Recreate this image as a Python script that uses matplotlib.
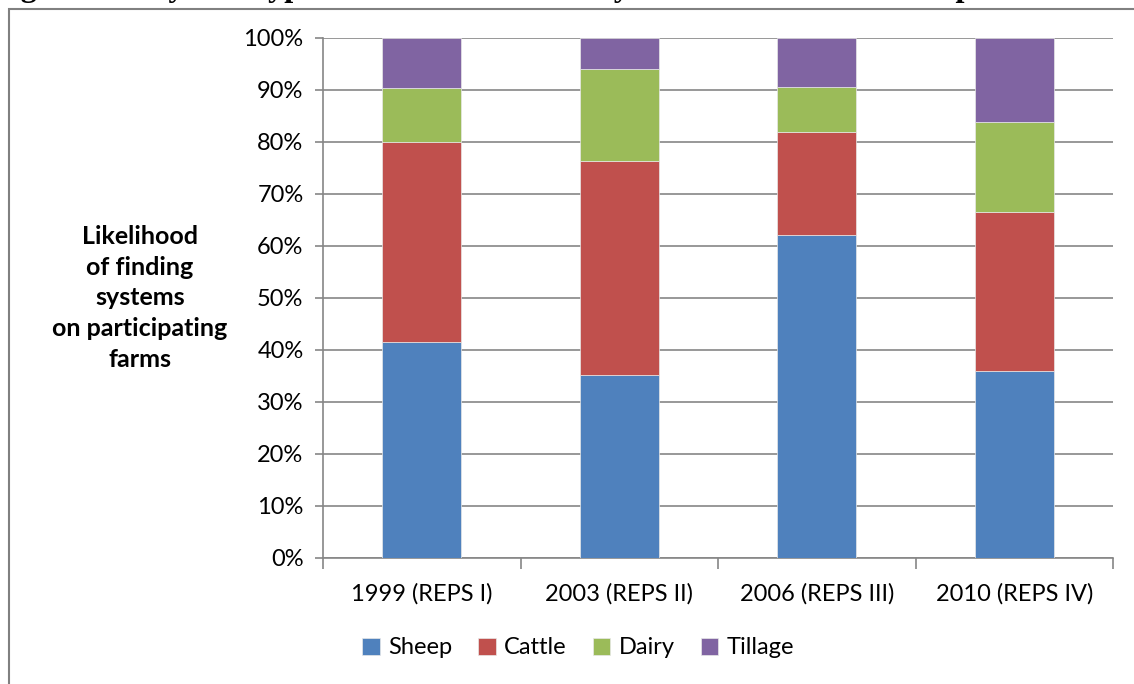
import matplotlib.pyplot as plt
import numpy as np
from matplotlib.patches import Rectangle

# data (percent of farms)
phases = ['1999 (REPS I)', '2003 (REPS II)', '2006 (REPS III)', '2010 (REPS IV)']
sheep = [41.5, 35.2, 62.1, 36.0]
cattle = [38.5, 41.1, 19.9, 30.5]
dairy = [10.4, 17.7, 8.5, 17.3]
tillage = [9.6, 6.0, 9.5, 16.2]

series = [('Sheep', sheep, '#4F81BD'), ('Cattle', cattle, '#C0504D'),
          ('Dairy', dairy, '#9BBB59'), ('Tillage', tillage, '#8064A2')]

plt.rcParams['font.family'] = ['Lato', 'DejaVu Sans']

fig = plt.figure(figsize=(11.34, 6.84), dpi=100)
ax = fig.add_axes([323 / 1134, 1 - 558 / 684, (1113 - 323) / 1134, (558 - 38) / 684])

# outer frame of the figure box
fig.patches.append(Rectangle((9 / 1134, -0.1), 1.2, 1 - 9 / 684 + 0.1,
                             transform=fig.transFigure, fill=False,
                             edgecolor='#808080', linewidth=1.5))

# clipped caption at the very top
fig.text(-8 / 1134, 1 + 4 / 684,
         'Figure 4.1: System types which are most likely to be found in the four phases of REPS',
         family='Liberation Serif', weight='bold', fontsize=23.2, ha='left', va='baseline')

x = np.arange(len(phases))
bottom = np.zeros(len(phases))
for name, vals, col in series:
    ax.bar(x, vals, width=0.4, bottom=bottom, color=col, label=name,
           edgecolor='#e8e8e8', linewidth=0.5, zorder=3)
    bottom += np.array(vals)

ax.set_xlim(-0.5, 3.5)
ax.set_ylim(0, 100)
ax.set_yticks(np.arange(0, 101, 10))
ax.set_yticklabels([f'{v}%' for v in range(0, 101, 10)], fontsize=17)
ax.set_xticks(x)
ax.set_xticklabels(phases, fontsize=17)
ax.tick_params(axis='x', length=0, pad=18)
ax.set_xticks(np.arange(-0.5, 4, 1), minor=True)
ax.tick_params(axis='x', which='minor', length=8, color='#868686', width=1.2)
ax.tick_params(axis='y', length=6, color='#868686', width=1.2, pad=8)
ax.grid(axis='y', color='#868686', linewidth=1.2, zorder=0)
for s in ['top', 'right']:
    ax.spines[s].set_visible(False)
for s in ['left', 'bottom']:
    ax.spines[s].set_color('#868686')
    ax.spines[s].set_linewidth(1.2)

fig.text(140 / 1134, 1 - 298 / 684,
         'Likelihood\nof finding\nsystems\non participating\nfarms',
         ha='center', va='center', fontsize=18, weight='bold', linespacing=1.4)

fig.legend(loc='center', bbox_to_anchor=(578 / 1134, 1 - 648 / 684), ncol=4,
           frameon=False, fontsize=17, handlelength=0.75, handleheight=0.75,
           handletextpad=0.35, columnspacing=1.1)

fig.savefig('out.png', dpi=100)
